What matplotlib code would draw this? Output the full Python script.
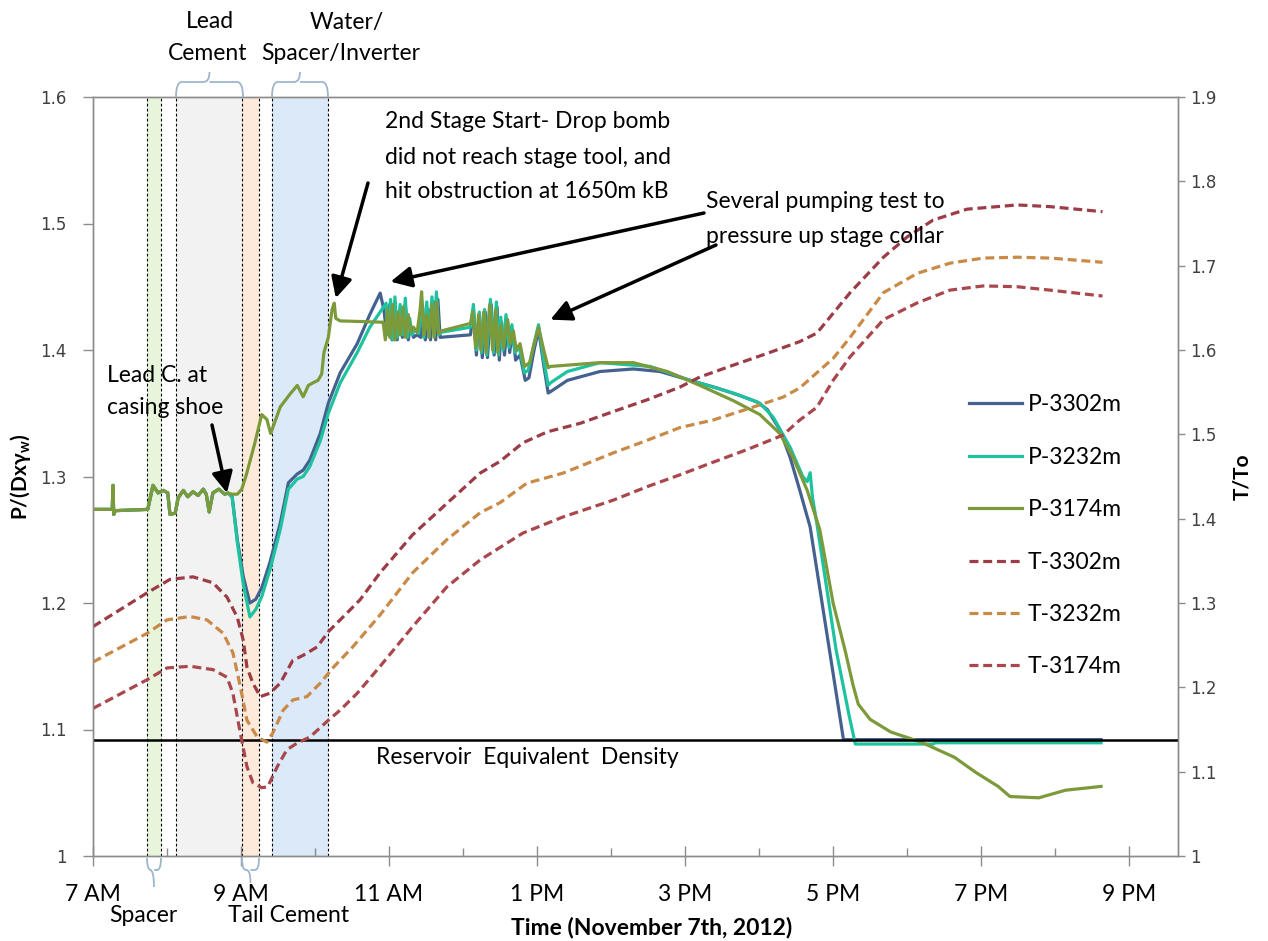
import matplotlib
matplotlib.use("Agg")
import matplotlib.pyplot as plt
from matplotlib.path import Path
from matplotlib.patches import PathPatch
from matplotlib.ticker import FuncFormatter, MultipleLocator, FixedLocator

plt.rcParams['font.family'] = ['Lato', 'DejaVu Sans']

W, H = 1268, 941

# ---------------- data (time in decimal hours, Nov 7th 2012) ----------------
early_t = [7.00, 7.26, 7.27, 7.28, 7.30, 7.74, 7.81, 7.88, 7.95, 8.01, 8.04, 8.11,
           8.15, 8.22, 8.28, 8.35, 8.42, 8.49, 8.53, 8.57, 8.62, 8.70, 8.78, 8.82]
early_p = [1.274, 1.274, 1.293, 1.270, 1.273, 1.274, 1.293, 1.287, 1.289, 1.287, 1.270, 1.271,
           1.283, 1.289, 1.284, 1.288, 1.285, 1.290, 1.286, 1.272, 1.287, 1.290, 1.286, 1.287]

p3302_t = [8.88, 8.95, 9.03, 9.12, 9.20, 9.28, 9.39, 9.53, 9.64, 9.76, 9.84, 9.93, 10.07, 10.18,
           10.34, 10.57, 10.74, 10.88, 10.93, 10.97, 11.01, 11.04, 11.08, 11.11, 11.15, 11.18,
           11.22, 11.26, 11.29, 11.33, 11.38, 11.43, 11.45, 11.49, 11.53, 11.56, 11.60, 11.63,
           11.66, 11.69, 12.10, 12.14, 12.18, 12.22, 12.26, 12.30, 12.33, 12.38, 12.42, 12.46,
           12.49, 12.52, 12.56, 12.60, 12.63, 12.67, 12.71, 12.77, 12.84, 12.89, 12.96, 13.02,
           13.09, 13.15, 13.18, 13.41, 13.85, 14.30, 14.66, 15.07, 15.43, 15.74, 15.97, 16.11,
           16.28, 16.42, 16.55, 16.69, 16.95, 17.14, 20.62]
p3302_p = [1.284, 1.250, 1.221, 1.200, 1.203, 1.212, 1.232, 1.263, 1.295, 1.302, 1.305, 1.313,
           1.334, 1.358, 1.382, 1.405, 1.428, 1.445, 1.432, 1.412, 1.436, 1.408, 1.438, 1.408,
           1.432, 1.410, 1.436, 1.408, 1.420, 1.410, 1.412, 1.410, 1.436, 1.408, 1.432, 1.408,
           1.438, 1.408, 1.440, 1.410, 1.412, 1.432, 1.396, 1.428, 1.394, 1.430, 1.394, 1.436,
           1.396, 1.434, 1.392, 1.422, 1.396, 1.424, 1.398, 1.416, 1.392, 1.396, 1.376, 1.378,
           1.400, 1.416, 1.388, 1.366, 1.367, 1.376, 1.383, 1.385, 1.383, 1.376, 1.370, 1.364,
           1.359, 1.353, 1.337, 1.315, 1.289, 1.260, 1.163, 1.092, 1.092]

p3232_t = [8.88, 8.95, 9.03, 9.12, 9.20, 9.28, 9.39, 9.53, 9.64, 9.76, 9.84, 9.93, 10.07, 10.18,
           10.34, 10.57, 10.74, 10.96, 10.99, 11.02, 11.05, 11.08, 11.11, 11.15, 11.18, 11.22,
           11.25, 11.28, 11.31, 11.35, 11.40, 11.44, 11.47, 11.51, 11.54, 11.58, 11.61, 11.64,
           11.67, 11.70, 12.10, 12.14, 12.18, 12.22, 12.25, 12.29, 12.32, 12.37, 12.41, 12.45,
           12.48, 12.51, 12.54, 12.58, 12.62, 12.66, 12.70, 12.76, 12.83, 12.88, 12.96, 13.02,
           13.09, 13.15, 13.18, 13.41, 13.85, 14.53, 15.07, 15.65, 16.01, 16.19, 16.42, 16.59,
           16.65, 16.69, 16.72, 16.78, 17.04, 17.22, 17.30, 18.35, 18.38, 20.62]
p3232_p = [1.284, 1.248, 1.215, 1.189, 1.195, 1.205, 1.226, 1.258, 1.290, 1.298, 1.300, 1.308,
           1.328, 1.350, 1.374, 1.398, 1.418, 1.437, 1.412, 1.440, 1.408, 1.442, 1.410, 1.436,
           1.412, 1.441, 1.410, 1.425, 1.412, 1.416, 1.413, 1.440, 1.410, 1.438, 1.410, 1.442,
           1.412, 1.446, 1.412, 1.414, 1.418, 1.436, 1.400, 1.430, 1.398, 1.432, 1.396, 1.440,
           1.398, 1.438, 1.396, 1.426, 1.400, 1.428, 1.402, 1.420, 1.398, 1.402, 1.382, 1.384,
           1.405, 1.420, 1.392, 1.372, 1.374, 1.383, 1.390, 1.387, 1.376, 1.366, 1.358, 1.347,
           1.323, 1.300, 1.296, 1.303, 1.284, 1.263, 1.163, 1.110, 1.0885, 1.0885, 1.0895, 1.0895]

p3174_t = [8.88, 8.95, 9.01, 9.07, 9.18, 9.28, 9.35, 9.40, 9.45, 9.53, 9.66, 9.76, 9.84, 9.91,
           9.97, 10.04, 10.09, 10.12, 10.18, 10.23, 10.26, 10.28, 10.34, 10.90, 10.92, 10.95,
           10.98, 11.01, 11.05, 11.08, 11.12, 11.15, 11.19, 11.22, 11.26, 11.29, 11.33, 11.38,
           11.42, 11.44, 11.47, 11.51, 11.54, 11.58, 11.61, 11.64, 11.67, 11.70, 12.10, 12.13,
           12.17, 12.21, 12.24, 12.28, 12.31, 12.36, 12.40, 12.44, 12.47, 12.51, 12.55, 12.60,
           12.64, 12.68, 12.72, 12.77, 12.83, 12.90, 12.96, 13.02, 13.09, 13.15, 13.18, 13.85,
           14.30, 14.76, 15.20, 15.65, 16.01, 16.28, 16.46, 16.65, 16.82, 17.00, 17.16, 17.27,
           17.34, 17.50, 17.78, 18.19, 18.64, 18.93, 19.23, 19.39, 19.78, 20.14, 20.62]
p3174_p = [1.286, 1.286, 1.290, 1.301, 1.325, 1.349, 1.345, 1.334, 1.342, 1.355, 1.365, 1.372,
           1.363, 1.372, 1.374, 1.376, 1.381, 1.398, 1.410, 1.432, 1.437, 1.425, 1.423, 1.422,
           1.422, 1.408, 1.432, 1.410, 1.436, 1.408, 1.430, 1.412, 1.434, 1.410, 1.428, 1.414,
           1.418, 1.414, 1.432, 1.446, 1.412, 1.428, 1.410, 1.436, 1.410, 1.438, 1.413, 1.415,
           1.421, 1.430, 1.402, 1.428, 1.400, 1.430, 1.398, 1.436, 1.400, 1.432, 1.398, 1.420,
           1.402, 1.424, 1.405, 1.415, 1.400, 1.405, 1.387, 1.390, 1.405, 1.418, 1.400, 1.386,
           1.387, 1.390, 1.390, 1.383, 1.372, 1.360, 1.349, 1.334, 1.315, 1.289, 1.258, 1.200,
           1.163, 1.135, 1.120, 1.108, 1.098, 1.090, 1.078, 1.066, 1.055, 1.047, 1.046, 1.052,
           1.055]

t3302_t = [7.00, 7.73, 8.04, 8.35, 8.62, 8.81, 8.95, 9.03, 9.08, 9.16, 9.26, 9.39, 9.53, 9.70,
           9.84, 10.03, 10.18, 10.43, 10.61, 10.88, 11.32, 11.78, 12.23, 12.50, 12.81, 13.14,
           13.58, 14.03, 14.49, 14.93, 15.20, 15.65, 16.11, 16.55, 16.78, 17.23, 17.68, 18.00,
           18.35, 18.81, 19.49, 19.93, 20.64]
t3302_v = [1.272, 1.312, 1.328, 1.331, 1.324, 1.307, 1.283, 1.256, 1.224, 1.205, 1.189, 1.193,
           1.205, 1.232, 1.238, 1.248, 1.266, 1.288, 1.304, 1.336, 1.381, 1.418, 1.454, 1.468,
           1.490, 1.503, 1.513, 1.527, 1.541, 1.556, 1.568, 1.582, 1.596, 1.610, 1.620, 1.668,
           1.710, 1.734, 1.754, 1.767, 1.772, 1.770, 1.764]

t3232_t = [7.00, 7.73, 8.00, 8.31, 8.54, 8.76, 8.89, 8.99, 9.08, 9.22, 9.35, 9.43, 9.57, 9.70,
           9.89, 10.07, 10.24, 10.51, 10.88, 11.32, 11.78, 12.23, 12.50, 12.86, 13.35, 14.03,
           14.49, 14.93, 15.38, 15.84, 16.32, 16.55, 16.78, 17.00, 17.23, 17.68, 18.14, 18.58,
           19.03, 19.49, 19.93, 20.64]
t3232_v = [1.230, 1.264, 1.280, 1.284, 1.280, 1.264, 1.241, 1.201, 1.161, 1.141, 1.135, 1.146,
           1.173, 1.185, 1.189, 1.205, 1.223, 1.248, 1.286, 1.336, 1.375, 1.407, 1.419, 1.442,
           1.454, 1.478, 1.493, 1.508, 1.517, 1.530, 1.544, 1.555, 1.573, 1.590, 1.615, 1.668,
           1.691, 1.703, 1.709, 1.710, 1.709, 1.704]

t3174_t = [7.00, 7.73, 8.00, 8.31, 8.62, 8.81, 8.89, 8.99, 9.08, 9.16, 9.28, 9.36, 9.49, 9.62,
           9.76, 9.93, 10.18, 10.34, 10.57, 10.88, 11.32, 11.78, 12.23, 12.81, 13.35, 14.03,
           14.49, 14.93, 15.38, 15.84, 16.32, 16.55, 16.78, 17.00, 17.23, 17.68, 18.14, 18.58,
           19.03, 19.49, 19.93, 20.64]
t3174_v = [1.175, 1.209, 1.223, 1.225, 1.221, 1.212, 1.193, 1.146, 1.106, 1.087, 1.081, 1.082,
           1.106, 1.126, 1.134, 1.141, 1.161, 1.173, 1.193, 1.225, 1.272, 1.319, 1.351, 1.383,
           1.402, 1.422, 1.438, 1.452, 1.467, 1.482, 1.499, 1.517, 1.532, 1.564, 1.592, 1.636,
           1.656, 1.671, 1.676, 1.675, 1.671, 1.664]

reservoir_density = 1.092

# operation stages (start, end in hours)
stage_names = ['Spacer', 'Lead Cement', 'Tail Cement', 'Water/Spacer/Inverter']
stage_start = [7.73, 8.12, 9.01, 9.42]
stage_end = [7.92, 9.01, 9.24, 10.18]
stage_colors = ['#e7f5da', '#f2f2f2', '#fdeadb', '#dce9f8']
stage_marks = [7.73, 7.92, 8.12, 9.01, 9.24, 9.42, 10.18]

time_ticks = [7, 9, 11, 13, 15, 17, 19, 21]

# ---------------- figure ----------------
fig = plt.figure(figsize=(W / 100, H / 100), dpi=100)
ax = fig.add_axes([93 / W, 1 - 856 / H, (1178 - 93) / W, (856 - 97) / H])
ax2 = ax.twinx()

for s, e, c in zip(stage_start, stage_end, stage_colors):
    ax.axvspan(s, e, color=c, zorder=0, lw=0)
for m in stage_marks:
    ax.axvline(m, color='black', lw=0.8, ls=(0, (2.5, 2)), zorder=1)

c_p3302, c_p3232, c_p3174 = '#44618f', '#1fc29f', '#7d9a3b'
c_t3302, c_t3232, c_t3174 = '#9c3c46', '#c98a47', '#a9474d'

lw_p = 2.3
l1, = ax.plot(early_t + p3302_t, early_p + p3302_p, color=c_p3302, lw=lw_p, zorder=3,
              label='P-3302m')
l2, = ax.plot(early_t + p3232_t, early_p + p3232_p, color=c_p3232, lw=lw_p, zorder=4,
              label='P-3232m')
l3, = ax.plot(early_t + p3174_t, early_p + p3174_p, color=c_p3174, lw=lw_p, zorder=5,
              label='P-3174m')
ax.axhline(reservoir_density, color='black', lw=1.8, zorder=6)

dash = (0, (2.8, 1.5))
l4, = ax2.plot(t3302_t, t3302_v, color=c_t3302, lw=2.3, ls=dash, label='T-3302m')
l5, = ax2.plot(t3232_t, t3232_v, color=c_t3232, lw=2.3, ls=dash, label='T-3232m')
l6, = ax2.plot(t3174_t, t3174_v, color=c_t3174, lw=2.3, ls=dash, label='T-3174m')

# axes limits and ticks
ax.set_xlim(7, 21.66)
ax.set_ylim(1.0, 1.6)
ax2.set_ylim(1.0, 1.9)
ax.xaxis.set_major_locator(FixedLocator(time_ticks))
ax.xaxis.set_minor_locator(FixedLocator([t + 1 for t in time_ticks[:-1]]))


def clock_label(h, pos):
    hr = int(round(h))
    suffix = 'AM' if hr < 12 else 'PM'
    h12 = hr % 12 or 12
    return f'{h12} {suffix}'


ax.xaxis.set_major_formatter(FuncFormatter(clock_label))
ax.yaxis.set_major_locator(MultipleLocator(0.1))
ax2.yaxis.set_major_locator(MultipleLocator(0.1))
ax.yaxis.set_major_formatter(FuncFormatter(lambda v, p: f'{v:g}'))
ax2.yaxis.set_major_formatter(FuncFormatter(lambda v, p: f'{v:g}'))

spine_c = '#8c8c8c'
for a in (ax, ax2):
    for sp in a.spines.values():
        sp.set_color(spine_c)
        sp.set_linewidth(1.0)
ax.tick_params(axis='x', which='major', direction='inout', length=14, width=1, color=spine_c,
               labelsize=16.5, pad=13)
ax.tick_params(axis='x', which='minor', direction='in', length=6, width=1, color=spine_c)
ax.tick_params(axis='y', direction='out', length=7, width=1, color=spine_c, pad=12)
ax2.tick_params(axis='y', direction='out', length=5, width=1, color=spine_c, pad=4)
for lab in ax.get_yticklabels() + ax2.get_yticklabels():
    lab.set_fontfamily('DejaVu Sans')
    lab.set_fontsize(12)
    lab.set_color('#404040')

ax.set_ylabel('P/(Dxγ$_\\mathregular{w}$)', fontsize=15, fontweight='bold')
ax.yaxis.set_label_coords(-(93 - 33) / 1085, 0.5)
ax2.set_ylabel('T/To', fontsize=15, fontweight='bold')
ax2.yaxis.set_label_coords((1232 - 93) / 1085, 0.5)
fig.text(652 / W, 1 - 927 / H, 'Time (November 7th, 2012)', fontsize=16.5, fontweight='bold',
         ha='center', va='center')

# legend
handles = [l1, l2, l3, l4, l5, l6]
fig.legend(handles=handles, labels=[h.get_label() for h in handles], loc='upper left',
           bbox_to_anchor=(958 / W, 1 - 383 / H), frameon=False, fontsize=16.5,
           handlelength=2.3, handletextpad=0.25, labelspacing=1.37, borderpad=0)

# reservoir label
fig.text(376 / W, 1 - 757 / H, 'Reservoir  Equivalent  Density', fontsize=16.5,
         ha='left', va='center')


def fx(px):
    return px / W


def fy(py):
    return 1 - py / H


FS = 16.5

# stage labels above and below the plot
fig.text(fx(210), fy(22), 'Lead', fontsize=FS, ha='center', va='center')
fig.text(fx(208), fy(53), 'Cement', fontsize=FS, ha='center', va='center')
fig.text(fx(347), fy(22), 'Water/', fontsize=FS, ha='center', va='center')
fig.text(fx(341), fy(53), 'Spacer/Inverter', fontsize=FS, ha='center', va='center')
fig.text(fx(143), fy(915), 'Spacer', fontsize=FS, ha='center', va='center')
fig.text(fx(289), fy(915), 'Tail Cement', fontsize=FS, ha='center', va='center')


def brace(x0, x1, y_base, y_bar, y_tip, r=6):
    xc = (x0 + x1) / 2
    sgn = 1 if y_bar > y_base else -1
    verts = [(x0, y_base), (x0, y_bar), (x0 + r, y_bar),
             (xc - r, y_bar), (xc, y_bar), (xc, y_bar + sgn * (abs(y_tip - y_bar))),
             (xc, y_bar), (xc + r, y_bar),
             (x1 - r, y_bar), (x1, y_bar), (x1, y_base)]
    codes = [Path.MOVETO, Path.CURVE3, Path.CURVE3,
             Path.LINETO, Path.CURVE3, Path.CURVE3,
             Path.MOVETO, Path.LINETO,
             Path.LINETO, Path.CURVE3, Path.CURVE3]
    verts = [(fx(a), fy(b)) for a, b in verts]
    p = PathPatch(Path(verts, codes), fill=False, edgecolor='#9db6cf', lw=1.3,
                  transform=fig.transFigure, clip_on=False)
    fig.add_artist(p)


brace(176, 243, 97, 82, 72)
brace(272, 328, 97, 82, 72)
brace(147, 161, 858, 870, 887, r=4)
brace(242, 259, 858, 870, 883, r=4)

# annotations
arrow_kw = dict(arrowstyle='-|>,head_length=0.7,head_width=0.35', color='black', lw=2.5,
                shrinkA=0, shrinkB=0, mutation_scale=18)
ax.annotate('', xy=(8.81, 1.287), xytext=(fx(212), fy(425)), textcoords='figure fraction',
            arrowprops=arrow_kw)
fig.text(fx(107), fy(375), 'Lead C. at', fontsize=FS, ha='left', va='center')
fig.text(fx(107), fy(407), 'casing shoe', fontsize=FS, ha='left', va='center')

ax.annotate('', xy=(10.28, 1.441), xytext=(fx(368), fy(183)), textcoords='figure fraction',
            arrowprops=arrow_kw)
for i, line in enumerate(['2nd Stage Start- Drop bomb', 'did not reach stage tool, and',
                          'hit obstruction at 1650m kB']):
    fig.text(fx(385), fy(122 + 35 * i), line, fontsize=FS, ha='left', va='center')

ax.annotate('', xy=(11.02, 1.454), xytext=(fx(704), fy(213)), textcoords='figure fraction',
            arrowprops=arrow_kw)
ax.annotate('', xy=(13.18, 1.424), xytext=(fx(716), fy(245)), textcoords='figure fraction',
            arrowprops=arrow_kw)
fig.text(fx(706), fy(202), 'Several pumping test to', fontsize=FS, ha='left', va='center')
fig.text(fx(706), fy(236), 'pressure up stage collar', fontsize=FS, ha='left', va='center')

fig.savefig('out.png', dpi=100, facecolor='white')
